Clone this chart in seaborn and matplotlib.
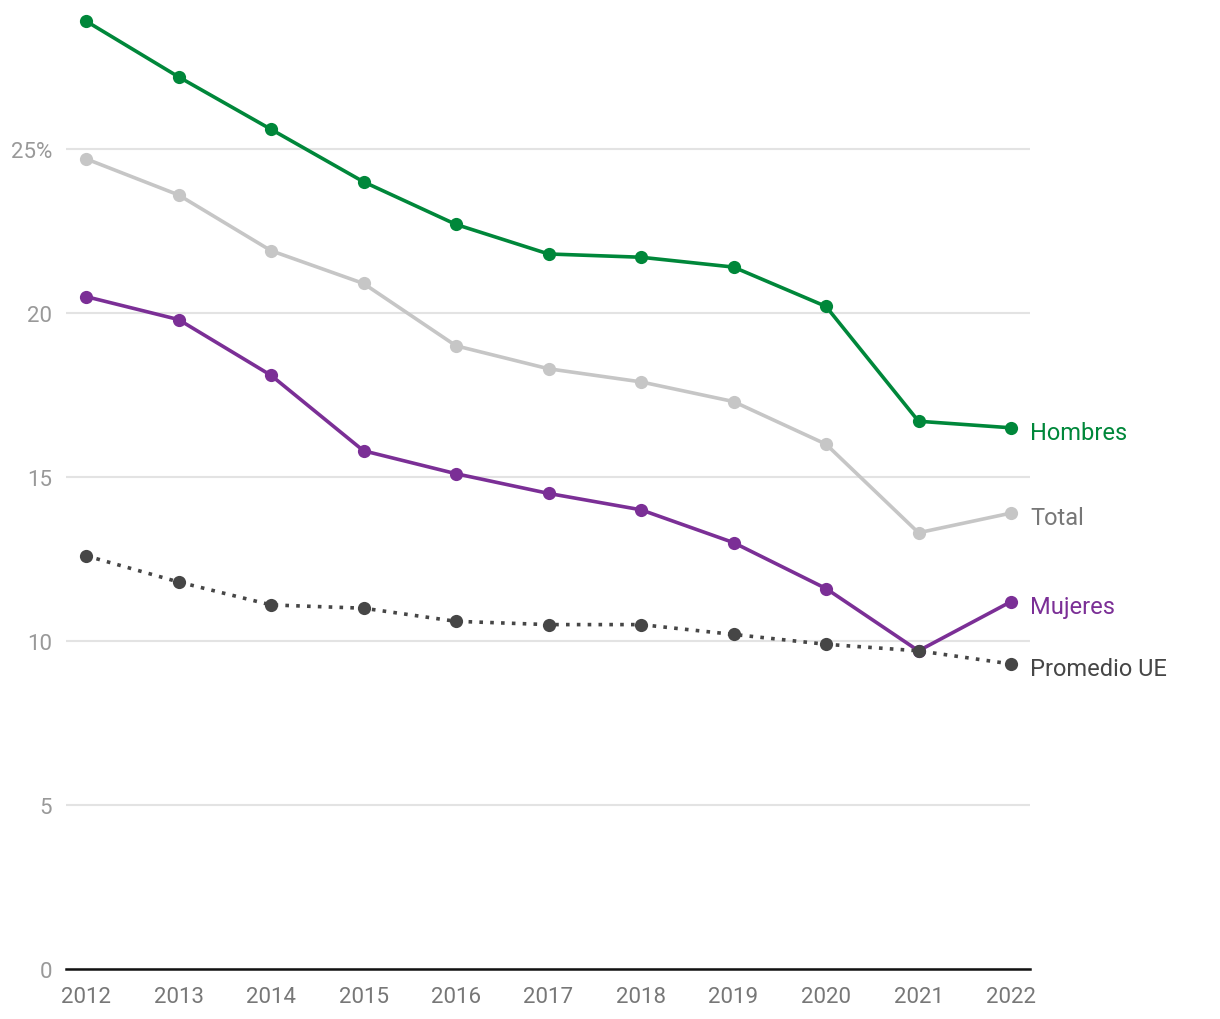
import seaborn as sns
import numpy as np
import matplotlib.pyplot as plt
import pandas as pd

years = list(range(2012, 2023))
hombres = [28.9, 27.2, 25.6, 24.0, 22.7, 21.8, 21.7, 21.4, 20.2, 16.7, 16.5]
total = [24.7, 23.6, 21.9, 20.9, 19.0, 18.3, 17.9, 17.3, 16.0, 13.3, 13.9]
mujeres = [20.5, 19.8, 18.1, 15.8, 15.1, 14.5, 14.0, 13.0, 11.6, 9.7, 11.2]
promedio_ue = [12.6, 11.8, 11.1, 11.0, 10.6, 10.5, 10.5, 10.2, 9.9, 9.7, 9.3]

series = ['Hombres', 'Total', 'Mujeres', 'Promedio UE']
colors = {'Hombres': '#00873a', 'Total': '#c6c6c6',
          'Mujeres': '#7b2f96', 'Promedio UE': '#464646'}
label_colors = {'Hombres': '#00873a', 'Total': '#777777',
                'Mujeres': '#7b2f96', 'Promedio UE': '#464646'}

df = pd.DataFrame({'Año': years * 4,
                   'Serie': sum([[s] * len(years) for s in series], []),
                   'Valor': hombres + total + mujeres + promedio_ue})

sns.set_style('white')
plt.rcParams['font.family'] = ['Roboto', 'DejaVu Sans']

fig = plt.figure(figsize=(12.2, 10.2), dpi=100)
ax = fig.add_axes([66 / 1220, 1 - 970 / 1020, 964 / 1220, 970 / 1020])

for i, s in enumerate(series):
    sub = df[df['Serie'] == s]
    sns.lineplot(data=sub, x='Año', y='Valor', ax=ax, color=colors[s],
                 linewidth=2.6, marker='o', markersize=9.5,
                 markeredgewidth=0, zorder=3 + i,
                 linestyle=(0, (1, 2)) if s == 'Promedio UE' else '-')

# labels at the end of each line
for s, vals in [('Hombres', hombres), ('Total', total),
                ('Mujeres', mujeres), ('Promedio UE', promedio_ue)]:
    ax.text(2022.205, vals[-1] - 0.15, s, color=label_colors[s], fontsize=17,
            va='center', ha='left', clip_on=False)

ax.set_xlim(2022 - (1011 - 66) / 92.5, 2022 + 19 / 92.5)
ax.set_ylim(0, 970 / 32.8)
ax.set_yticks([0, 5, 10, 15, 20, 25])
ax.set_yticklabels(['0', '5', '10', '15', '20', '25%'])
ax.set_xticks(years)
ax.set_xticklabels([str(y) for y in years])
ax.tick_params(axis='both', length=0, labelsize=16, labelcolor='#999999')
ax.tick_params(axis='x', pad=12, labelcolor='#777777')
ax.tick_params(axis='y', pad=10)
ax.grid(axis='y', color='#e3e3e3', linewidth=1.5)
ax.grid(axis='x', visible=False)
for side in ['top', 'right', 'left']:
    ax.spines[side].set_visible(False)
ax.spines['bottom'].set_color('#111111')
ax.spines['bottom'].set_linewidth(1.8)
ax.set_xlabel('')
ax.set_ylabel('')
ax.set_facecolor('none')

fig.savefig('out.png', dpi=100)
